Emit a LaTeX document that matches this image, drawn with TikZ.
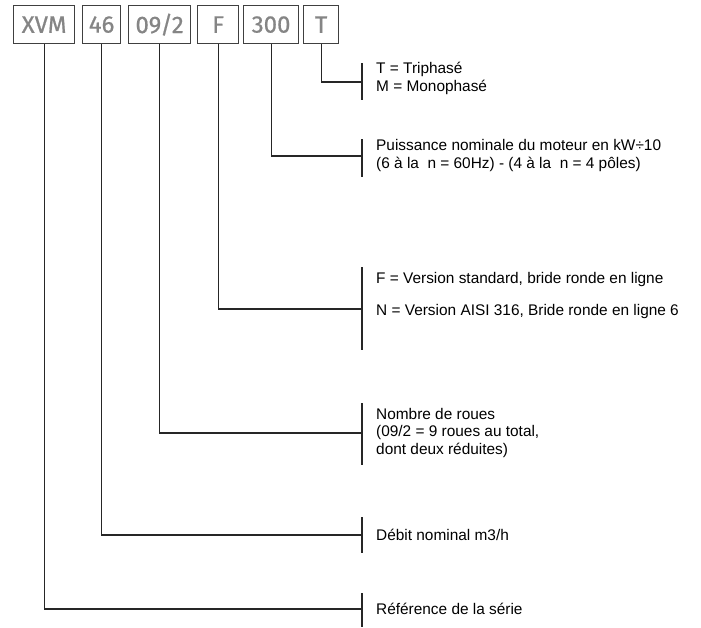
\documentclass[tikz,border=0pt]{standalone}
\usepackage{fontspec}
\setmainfont{Liberation Sans}
\newfontfamily\boxfont[FakeBold=0.7]{Fira Sans}
\begin{document}
\begin{tikzpicture}[x=1pt,y=-1pt,
  codebox/.style={draw=black!75, line width=1.2pt, minimum height=38pt, inner sep=0pt,
    font=\boxfont\fontsize{24}{24}\selectfont, text=black!48, anchor=north west},
  conn/.style={line width=1.2pt, draw=black!85},
  desc/.style={anchor=west, align=left, inner sep=0pt, font=\fontsize{15.4}{17.5}\selectfont}]
\useasboundingbox (0,0) rectangle (701,627);
% code boxes
\node[codebox, minimum width=61pt] (xvm) at (13,5) {XVM};
\node[codebox, minimum width=38pt] (b46) at (82,5) {46};
\node[codebox, minimum width=62pt] (b092) at (128,5) {09/2};
\node[codebox, minimum width=41pt] (bF) at (197,5) {F};
\node[codebox, minimum width=55pt] (b300) at (243,5) {300};
\node[codebox, minimum width=35pt] (bT) at (303,5) {T};
% bar joints
\coordinate (jT) at (362,82);
\coordinate (j300) at (362,156);
\coordinate (jF) at (362,309);
\coordinate (j092) at (362,433);
\coordinate (j46) at (362,535);
\coordinate (jxvm) at (362,609);
% bars
\coordinate (tT) at (362,63);   \coordinate (uT) at (362,100);
\coordinate (t300) at (362,139); \coordinate (u300) at (362,177);
\coordinate (tF) at (362,267);  \coordinate (uF) at (362,350);
\coordinate (t092) at (362,403); \coordinate (u092) at (362,465);
\coordinate (t46) at (362,517); \coordinate (u46) at (362,553);
\coordinate (txvm) at (362,593); \coordinate (uxvm) at (362,627);
\foreach \n in {T,300,F,092,46,xvm} {\draw[conn] (t\n) -- (u\n);}
% connectors
\draw[conn] (bT.south) |- (jT);
\draw[conn] (b300.south) |- (j300);
\draw[conn] (bF.south) |- (jF);
\draw[conn] (b092.south) |- (j092);
\draw[conn] (b46.south) |- (j46);
\draw[conn] (xvm.south) |- (jxvm);
% descriptions
\node[desc] (dT) at (376,78.5) {T = Triphasé\\M = Monophasé};
\node[desc] (d300) at (376,155.5) {Puissance nominale du moteur en kW÷10\\(6 à la\ \ n = 60Hz) - (4 à la\ \ n = 4 pôles)};
\node[desc] (dF1) at (376,280) {F = Version standard, bride ronde en ligne};
\node[desc] (dF2) at (376,312) {N = Version AISI 316, Bride ronde en ligne 6};
\node[desc] (d092) at (376,433) {Nombre de roues\\(09/2 = 9 roues au total,\\dont deux réduites)};
\node[desc] (d46) at (376,535) {Débit nominal m3/h};
\node[desc] (dxvm) at (376,609) {Référence de la série};
\end{tikzpicture}
\end{document}
